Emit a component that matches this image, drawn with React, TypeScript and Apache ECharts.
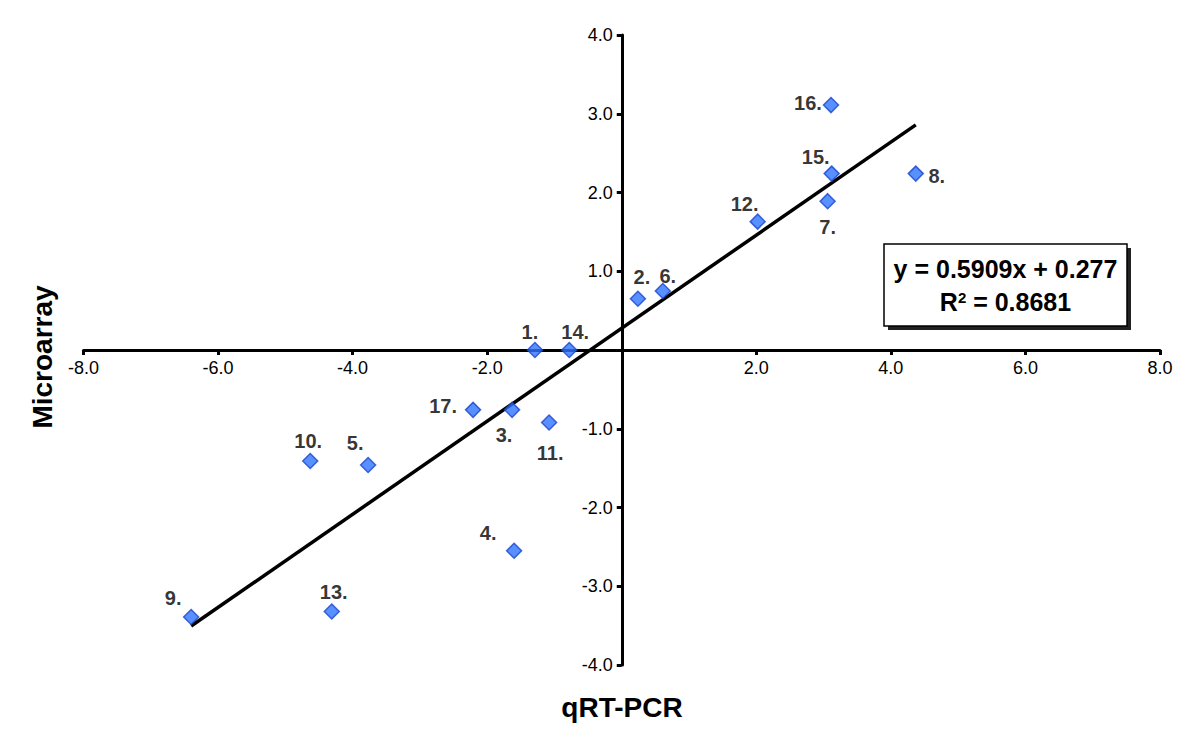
import React, { useEffect, useRef } from "react";
import * as echarts from "echarts";

const pointNames = ["1.", "2.", "3.", "4.", "5.", "6.", "7.", "8.", "9.", "10.", "11.", "12.", "13.", "14.", "15.", "16.", "17."];
const qrtPcr = [-1.29, 0.24, -1.63, -1.6, -3.77, 0.61, 3.06, 4.37, -6.4, -4.63, -1.08, 2.02, -4.31, -0.78, 3.12, 3.11, -2.21];
const microarray = [0.0, 0.65, -0.76, -2.55, -1.46, 0.75, 1.89, 2.24, -3.39, -1.41, -0.92, 1.63, -3.32, 0.0, 2.24, 3.11, -0.76];
const slope = 0.5909;
const intercept = 0.277;
const rSquared = "0.8681";
const xTicks = [-8, -6, -4, -2, 0, 2, 4, 6, 8];
const yTicks = [-4, -3, -2, -1, 0, 1, 2, 3, 4];

// label offsets (px) relative to each point, same order as pointNames
const labelOffsets = [
  [-5, -18], [4, -22], [-8, 25], [-26, -18], [-13, -22], [5, -15], [0, 26], [21, 2], [-18, -19],
  [-2, -20], [1, 31], [-13, -18], [2, -19], [6, -18], [-16, -17], [-23, -2], [-30, -4],
];

const FONT = "'Liberation Sans', Arial, Helvetica, sans-serif";
const W = 1200;
const H = 747;
const GRID = { left: 83.5, right: 40, top: 35, bottom: 82 };

export default function App() {
  const ref = useRef<HTMLDivElement>(null);
  useEffect(() => {
    if (!ref.current) return;
    const chart = echarts.init(ref.current, null, { renderer: "svg" });
    const minX = Math.min(...qrtPcr);
    const maxX = Math.max(...qrtPcr);
    const trend = [
      [minX, slope * minX + intercept],
      [maxX, slope * maxX + intercept],
    ];
    const pts = qrtPcr.map((x, i) => ({
      name: pointNames[i],
      value: [x, microarray[i]],
      label: { offset: labelOffsets[i] },
    }));
    const fmt = (v: number) => (v === 0 ? "" : v.toFixed(1));
    const xMin = xTicks[0];
    const xMax = xTicks[xTicks.length - 1];
    const yMin = yTicks[0];
    const yMax = yTicks[yTicks.length - 1];
    const plotW = W - GRID.left - GRID.right;
    const plotH = H - GRID.top - GRID.bottom;
    // move axes so they cross at zero (line, ticks and labels together)
    const xAxisOffset = -plotH * ((0 - yMin) / (yMax - yMin));
    const yAxisOffset = -plotW * ((0 - xMin) / (xMax - xMin));
    chart.setOption({
      animation: false,
      backgroundColor: "#ffffff",
      grid: { ...GRID, containLabel: false },
      xAxis: {
        type: "value",
        min: xMin,
        max: xMax,
        interval: 2,
        position: "bottom",
        offset: xAxisOffset,
        axisLine: { onZero: false, lineStyle: { color: "#000", width: 3 } },
        axisTick: { show: true, length: 5, lineStyle: { color: "#000", width: 3 } },
        axisLabel: { formatter: fmt, color: "#000", fontSize: 18, fontFamily: FONT, margin: 9 },
        splitLine: { show: false },
      },
      yAxis: {
        type: "value",
        min: yMin,
        max: yMax,
        interval: 1,
        position: "left",
        offset: yAxisOffset,
        axisLine: { onZero: false, lineStyle: { color: "#000", width: 3 } },
        axisTick: { show: true, length: 5, lineStyle: { color: "#000", width: 3 } },
        axisLabel: { formatter: fmt, color: "#000", fontSize: 18, fontFamily: FONT, margin: 9 },
        splitLine: { show: false },
      },
      series: [
        {
          type: "line",
          data: trend,
          symbol: "none",
          lineStyle: { color: "#000", width: 3.5 },
          z: 2,
          silent: true,
        },
        {
          type: "scatter",
          data: pts,
          symbol: "diamond",
          symbolSize: 15,
          itemStyle: { color: "#2f74ff", borderColor: "#1a45cc", borderWidth: 1.5 },
          label: {
            show: true,
            position: "inside",
            formatter: (p: any) => p.name,
            color: "#000",
            fontSize: 20,
            fontWeight: "bold",
            fontFamily: FONT,
          },
          z: 3,
        },
      ],
      graphic: [
        {
          type: "text",
          x: 622,
          y: 707,
          style: {
            text: "qRT-PCR",
            font: `bold 28px ${FONT}`,
            fill: "#000",
            align: "center",
            verticalAlign: "middle",
          },
        },
        {
          type: "text",
          x: 42,
          y: 357,
          rotation: Math.PI / 2,
          style: {
            text: "Microarray",
            font: `bold 28px ${FONT}`,
            fill: "#000",
            align: "center",
            verticalAlign: "middle",
          },
        },
        {
          type: "rect",
          shape: { x: 888, y: 248, width: 243, height: 82 },
          style: { fill: "#222" },
          z: 10,
        },
        {
          type: "rect",
          shape: { x: 884, y: 244, width: 243, height: 82 },
          style: { fill: "#fff", stroke: "#000", lineWidth: 1.5 },
          z: 11,
        },
        {
          type: "text",
          x: 1005.5,
          y: 269,
          z: 12,
          style: {
            text: `y = ${slope}x + ${intercept}`,
            font: `bold 25px ${FONT}`,
            fill: "#000",
            align: "center",
            verticalAlign: "middle",
          },
        },
        {
          type: "text",
          x: 1005.5,
          y: 302,
          z: 12,
          style: {
            text: `{b|R}{s|2}{b| = ${rSquared}}`,
            align: "center",
            verticalAlign: "middle",
            rich: {
              b: { font: `bold 25px ${FONT}`, fill: "#000", color: "#000" },
              s: { font: `bold 15px ${FONT}`, fill: "#000", color: "#000", verticalAlign: "top", padding: [0, 0, 10, 0] },
            },
          },
        },
      ],
    });
    return () => chart.dispose();
  }, []);
  return <div ref={ref} style={{ position: "fixed", left: 0, top: 0, width: W, height: H }} />;
}
